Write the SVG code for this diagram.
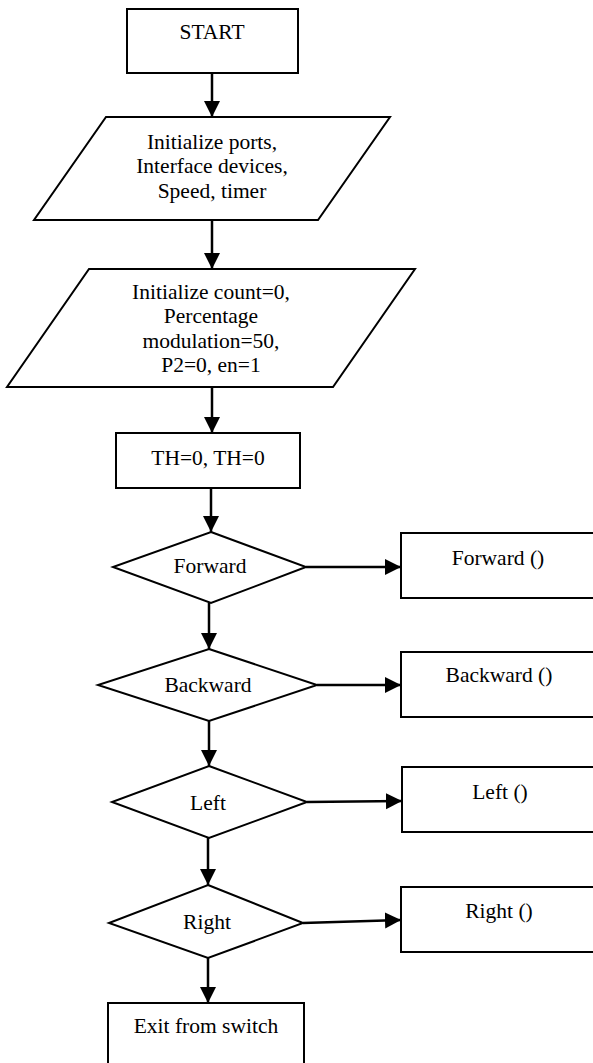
<svg xmlns="http://www.w3.org/2000/svg" width="593" height="1063" viewBox="0 0 593 1063">
<style>
.s{fill:#fff;stroke:#000;stroke-width:2}
.t{font-family:"Liberation Serif","Times New Roman",serif;font-size:21.5px;fill:#000;text-anchor:middle}
.c{stroke:#000;stroke-width:2.5;fill:none;marker-end:url(#ah)}
</style>
<defs>
<marker id="ah" markerUnits="userSpaceOnUse" markerWidth="18" markerHeight="18" viewBox="0 0 18 18" refX="16" refY="9" orient="auto">
<path d="M0,1 L16,9 L0,17 Z" fill="#000"/>
</marker>
</defs>
<rect width="593" height="1063" fill="#fff"/>
<g id="connectors">
<line class="c" x1="212" y1="73" x2="212" y2="117"/>
<line class="c" x1="212" y1="220" x2="212" y2="269"/>
<line class="c" x1="212" y1="387" x2="212" y2="433"/>
<line class="c" x1="211" y1="486" x2="211" y2="532"/>
<line class="c" x1="209" y1="603" x2="209" y2="649"/>
<line class="c" x1="209" y1="721" x2="209" y2="766"/>
<line class="c" x1="208" y1="838" x2="208" y2="885"/>
<line class="c" x1="208" y1="958" x2="208" y2="1003"/>
<line class="c" x1="306" y1="567" x2="401" y2="567"/>
<line class="c" x1="317" y1="685" x2="401" y2="685"/>
<line class="c" x1="307" y1="802" x2="402" y2="801"/>
<line class="c" x1="303" y1="923" x2="401" y2="920"/>
</g>
<g id="start">
<rect class="s" x="127" y="9" width="171" height="64"/>
<text class="t" x="212" y="39">START</text>
</g>
<g id="init1">
<polygon class="s" points="106,117 390,117 318,220 34,220"/>
<text class="t" x="212" y="149">Initialize ports,</text>
<text class="t" x="212" y="173">Interface devices,</text>
<text class="t" x="212" y="198">Speed, timer</text>
</g>
<g id="init2">
<polygon class="s" points="89,269 415,269 333,387 7,387"/>
<text class="t" x="211" y="299">Initialize count=0,</text>
<text class="t" x="211" y="323">Percentage</text>
<text class="t" x="211" y="348">modulation=50,</text>
<text class="t" x="211" y="372">P2=0, en=1</text>
</g>
<g id="th">
<rect class="s" x="116" y="433" width="184" height="55"/>
<text class="t" x="208" y="465">TH=0, TH=0</text>
</g>
<g id="forward">
<polygon class="s" points="211,532 306,567 211,603 113,567"/>
<text class="t" x="210" y="573">Forward</text>
</g>
<g id="forwardfn">
<rect class="s" x="401" y="533" width="200" height="65"/>
<text class="t" x="498" y="565">Forward ()</text>
</g>
<g id="backward">
<polygon class="s" points="209,649 317,685 209,721 98,685"/>
<text class="t" x="208" y="692">Backward</text>
</g>
<g id="backwardfn">
<rect class="s" x="401" y="652" width="200" height="65"/>
<text class="t" x="499" y="682">Backward ()</text>
</g>
<g id="left">
<polygon class="s" points="209,766 307,802 209,838 112,802"/>
<text class="t" x="208" y="810">Left</text>
</g>
<g id="leftfn">
<rect class="s" x="402" y="767" width="200" height="65"/>
<text class="t" x="500" y="799">Left ()</text>
</g>
<g id="right">
<polygon class="s" points="208,885 303,923 208,958 109,923"/>
<text class="t" x="207" y="929">Right</text>
</g>
<g id="rightfn">
<rect class="s" x="401" y="887" width="200" height="65"/>
<text class="t" x="499" y="918">Right ()</text>
</g>
<g id="exit">
<rect class="s" x="108" y="1003" width="196" height="80"/>
<text class="t" x="206" y="1033">Exit from switch</text>
</g>
</svg>
